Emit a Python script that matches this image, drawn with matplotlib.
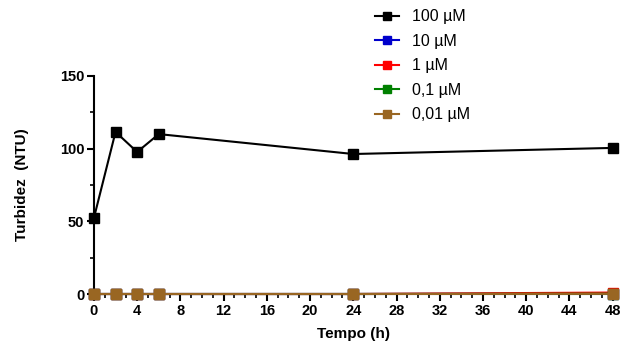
import matplotlib
matplotlib.use("Agg")
import matplotlib.pyplot as plt
from matplotlib.ticker import MultipleLocator

plt.rcParams['font.family'] = ['Liberation Sans', 'DejaVu Sans']

tempo = [0, 2, 4, 6, 24, 48]
labels = ['100 µM', '10 µM', '1 µM', '0,1 µM', '0,01 µM']
s100 = [52.3, 111.5, 97.7, 110, 96.3, 100.5]
s10 = [0, 0, 0, 0, 0, 0.3]
s1 = [0, 0, 0, 0, 0, 1.0]
s01 = [0, 0, 0, 0, 0, 0.2]
s001 = [0, 0, 0, 0, 0, 0.1]
series = [s100, s10, s1, s01, s001]
colors = ['#000000', '#0000CC', '#FF0000', '#008000', '#996622']

fig = plt.figure(figsize=(6.22, 3.5), dpi=100)
ax = fig.add_axes([0.151, 0.16, 0.834, 0.623])

for vals, c, lab in zip(series, colors, labels):
    ax.plot(tempo, vals, color=c, marker='s', markersize=7, lw=1.5,
            label=lab, clip_on=False, zorder=3)

ax.set_xlim(0, 48)
ax.set_ylim(0, 150)
ax.xaxis.set_major_locator(MultipleLocator(4))
ax.xaxis.set_minor_locator(MultipleLocator(1))
ax.yaxis.set_major_locator(MultipleLocator(50))
ax.yaxis.set_minor_locator(MultipleLocator(25))
for s in ['top', 'right']:
    ax.spines[s].set_visible(False)
for s in ['left', 'bottom']:
    ax.spines[s].set_linewidth(1.5)
ax.tick_params(axis='both', which='major', length=5, width=1.5, labelsize=10.5, pad=2)
ax.tick_params(axis='both', which='minor', length=3, width=1.2)
for t in ax.get_xticklabels() + ax.get_yticklabels():
    t.set_fontweight('bold')

ax.set_xlabel('Tempo (h)', fontsize=11, fontweight='bold', labelpad=7)
ax.set_ylabel('Turbidez  (NTU)', fontsize=11, fontweight='bold', labelpad=22)

leg = fig.legend(loc='upper left', bbox_to_anchor=(0.58, 1.015), frameon=False,
                 fontsize=11.5, handlelength=1.5, labelspacing=0.6, handletextpad=0.8,
                 markerscale=0.85)

fig.savefig('out.png', dpi=100)
